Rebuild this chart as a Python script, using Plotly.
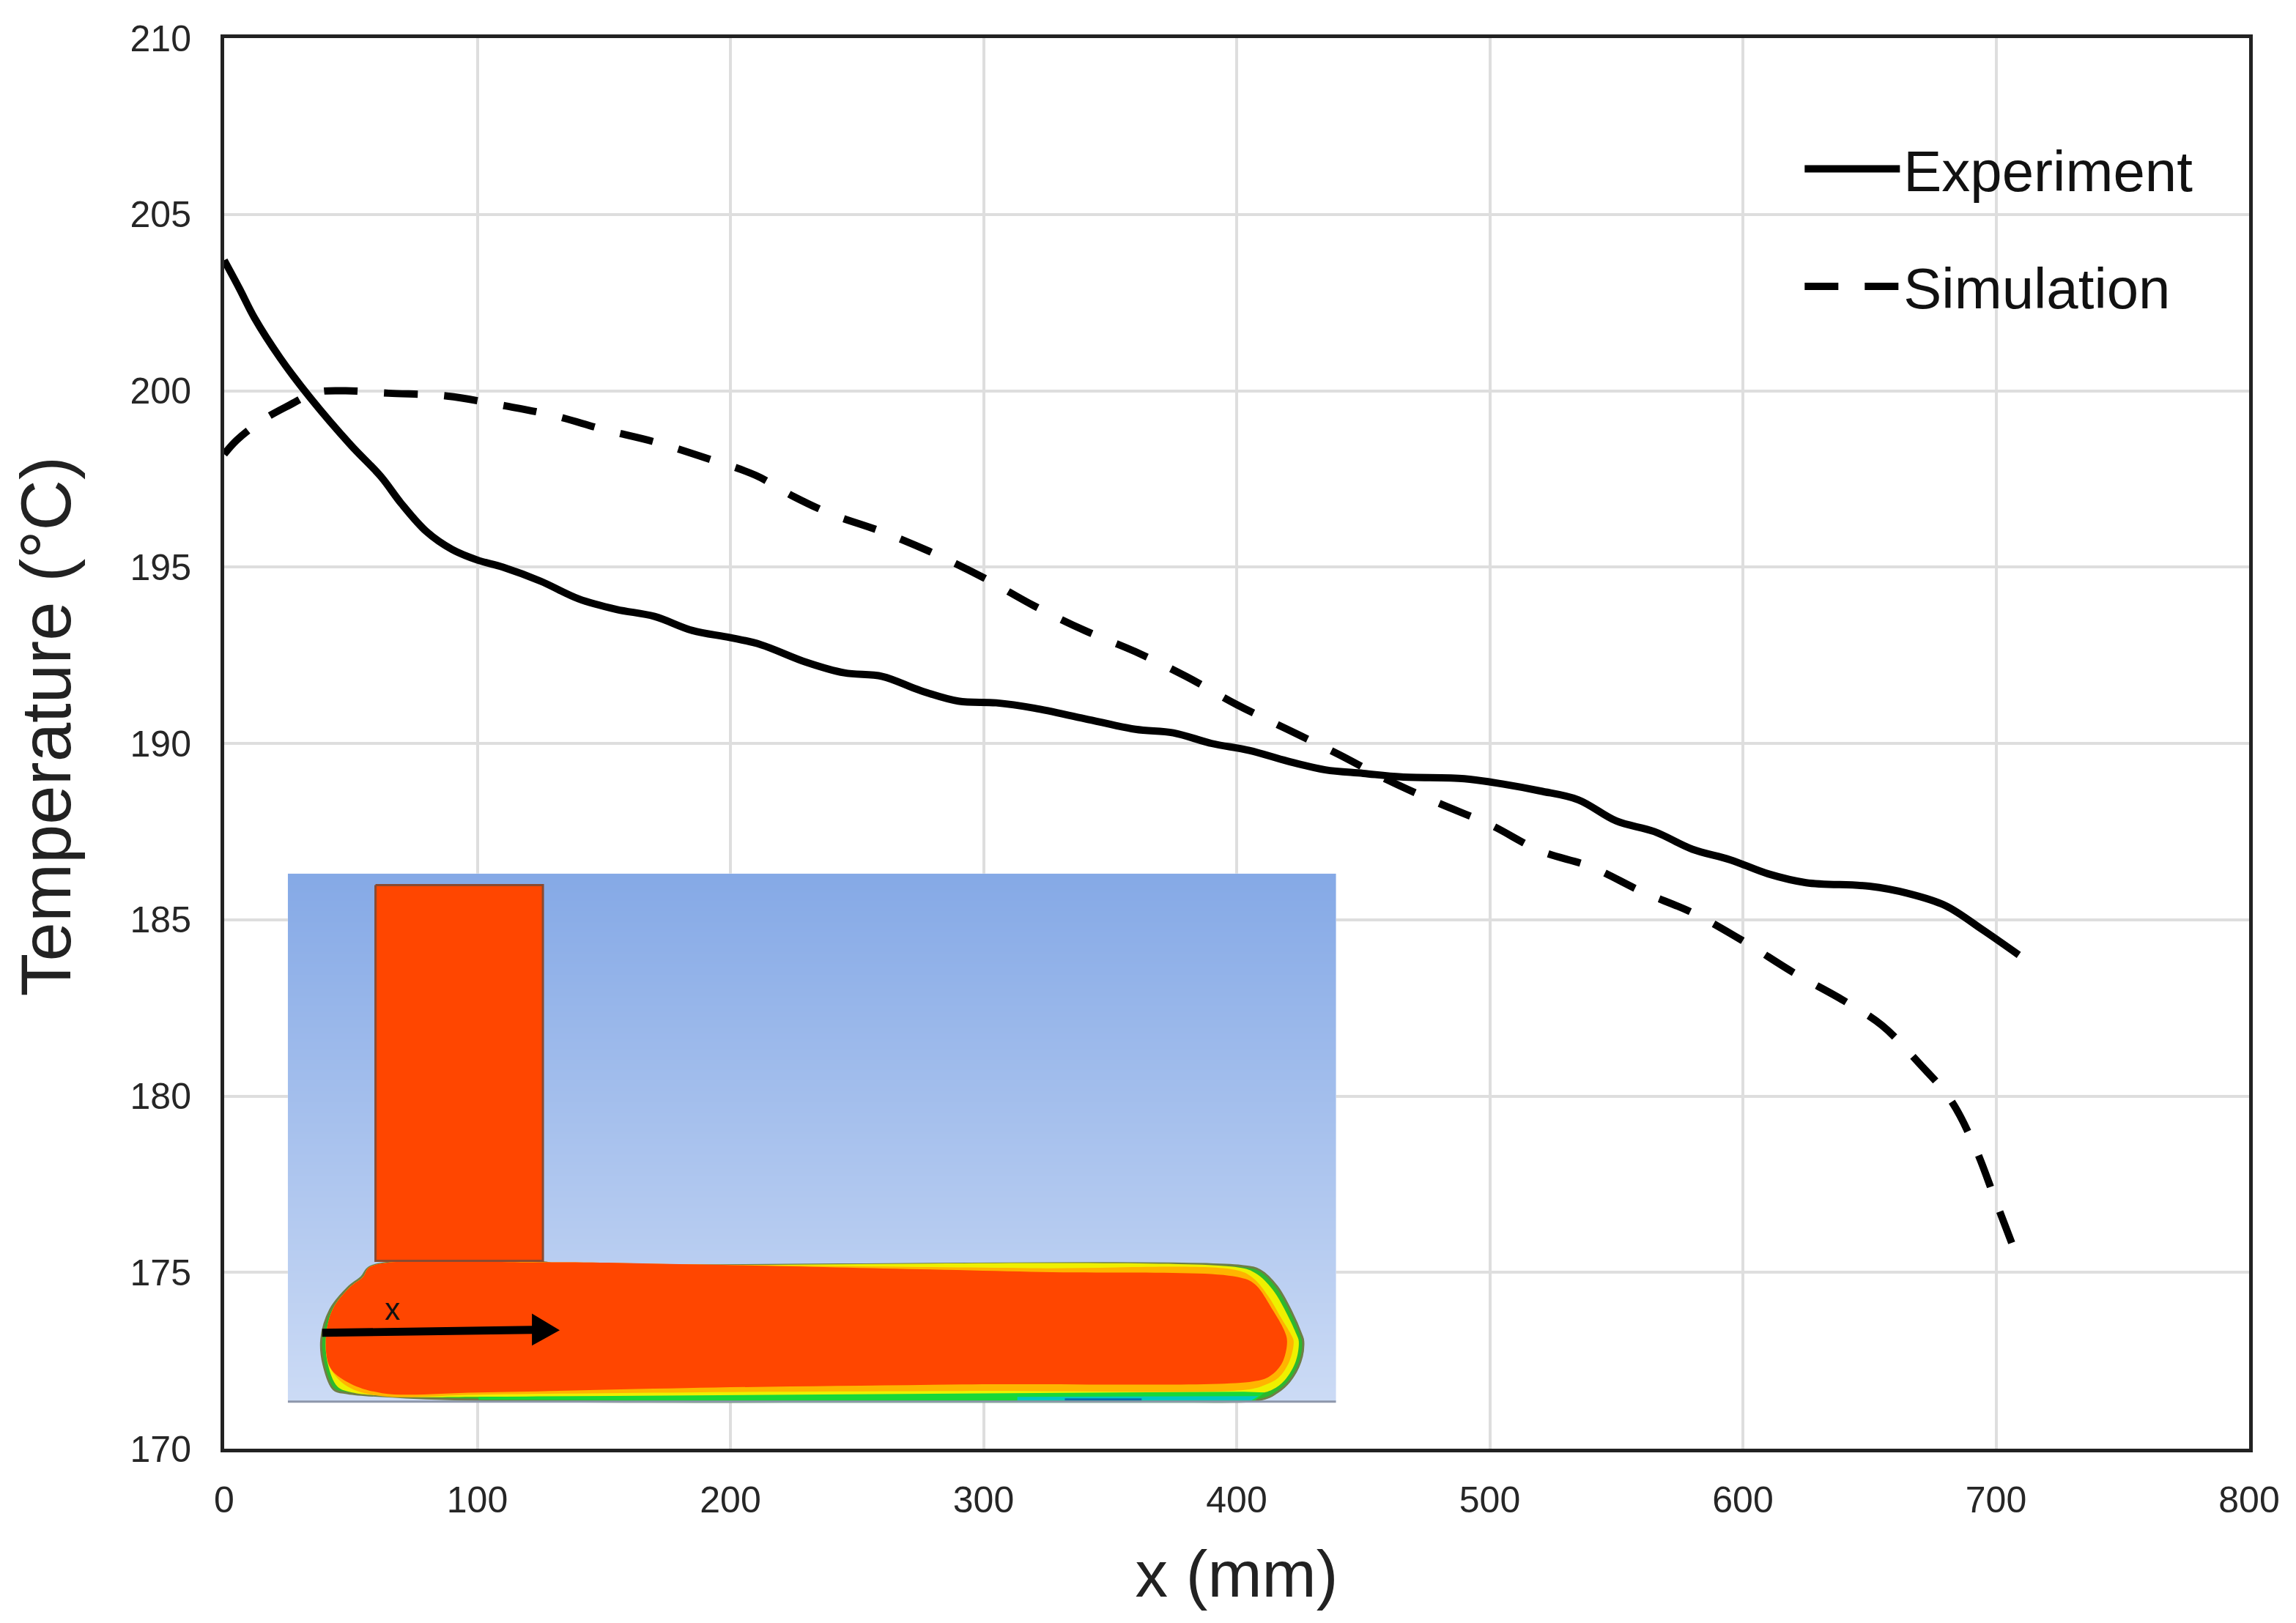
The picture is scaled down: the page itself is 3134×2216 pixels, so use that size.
import plotly.graph_objects as go

# values
exp_x = [0, 6, 12, 22, 34, 50, 62, 70, 80, 90, 100, 110, 125, 140, 155, 170, 185, 200, 212, 230,
         245, 260, 275, 290, 305, 320, 340, 360, 375, 390, 405, 420, 435, 450, 465, 490, 505, 520,
         535, 550, 565, 580, 595, 610, 625, 650, 665, 680, 695, 709]
exp_t = [203.7, 202.9, 202.06, 200.94, 199.8, 198.46, 197.56, 196.8, 196.0, 195.5, 195.2, 195.0, 194.6,
         194.1, 193.8, 193.6, 193.2, 193.0, 192.8, 192.3, 192.0, 191.9, 191.5, 191.2, 191.15, 191.0,
         190.7, 190.4, 190.3, 190.0, 189.8, 189.5, 189.25, 189.15, 189.05, 189.0, 188.85, 188.65,
         188.4, 187.8, 187.5, 187.0, 186.7, 186.3, 186.05, 185.95, 185.75, 185.4, 184.7, 184.0]

sim_x = [0, 5, 15, 26, 36, 48, 65, 88, 111, 130, 150, 170, 190, 210, 225, 240, 260, 280, 300, 320,
         340, 360, 380, 400, 420, 440, 460, 480, 500, 520, 540, 560, 580, 600, 620, 640, 655, 670,
         682, 692, 700, 708]
sim_t = [198.2, 198.6, 199.16, 199.6, 199.95, 200.0, 199.93, 199.85, 199.57, 199.3, 198.9, 198.55,
         198.1, 197.6, 197.0, 196.5, 196.0, 195.4, 194.7, 193.9, 193.2, 192.6, 191.9, 191.1, 190.4,
         189.7, 188.95, 188.3, 187.7, 186.95, 186.5, 185.8, 185.2, 184.4, 183.5, 182.7, 182.0, 180.9,
         179.9, 178.5, 177.0, 175.5]

x_ticks = [0, 100, 200, 300, 400, 500, 600, 700, 800]
y_ticks = [170, 175, 180, 185, 190, 195, 200, 205, 210]

# inset outlines, in page pixels of the picture
riser_x = [512, 741, 741, 512, 512]
riser_y = [1206, 1206, 1720, 1720, 1206]
outer_x = [505, 741, 760, 1696, 1722, 1745, 1765, 1778, 1781, 1777, 1762, 1745, 1722, 653, 559, 474,
           455, 441, 438, 450, 474, 493, 505]
outer_y = [1728, 1722, 1725, 1727, 1733, 1755, 1790, 1820, 1830, 1858, 1885, 1900, 1910, 1910, 1907,
           1901, 1896, 1862, 1827, 1787, 1757, 1742, 1728]
yellow_x = [505, 741, 760, 1692, 1716, 1739, 1759, 1772, 1775, 1771, 1756, 1739, 1716, 1314, 936, 653,
            559, 480, 460, 447, 444, 453, 476, 495, 505]
yellow_y = [1728, 1722, 1725, 1729, 1737, 1759, 1793, 1821, 1830, 1857, 1883, 1896, 1902, 1903, 1905,
            1906, 1906, 1900, 1892, 1862, 1827, 1787, 1757, 1742, 1728]
amber_x = [505, 741, 955, 1408, 1691, 1713, 1733, 1752, 1765, 1768, 1762, 1747, 1728, 1705, 1314, 936,
           653, 521, 474, 450, 445, 453, 476, 495, 505]
amber_y = [1728, 1722, 1725, 1730, 1733, 1744, 1768, 1800, 1822, 1830, 1858, 1880, 1890, 1896, 1898,
           1900, 1903, 1905, 1892, 1866, 1827, 1787, 1757, 1742, 1728]
body_x = [505, 741, 955, 1408, 1691, 1715, 1738, 1755, 1759, 1752, 1735, 1712, 1314, 936, 653, 521,
          474, 450, 444, 453, 476, 495, 505]
body_y = [1728, 1722, 1725, 1735, 1742, 1752, 1785, 1815, 1830, 1860, 1878, 1885, 1889, 1894, 1900,
          1901, 1886, 1866, 1827, 1787, 1757, 1742, 1728]
green_x = [653, 936, 1314, 1700, 1728, 1715, 1400, 1000, 653]
green_y = [1906, 1904, 1901, 1899, 1900, 1911, 1911, 1911, 1910]
cyan_x = [1390, 1720, 1710, 1390]
cyan_y = [1906, 1905, 1911, 1911]
blue_x = [1455, 1560, 1560, 1455]
blue_y = [1908, 1908, 1911, 1911]
arrow_x = [439, 726, 726, 764, 726, 726, 439]
arrow_y = [1813, 1809, 1792, 1815, 1836, 1820, 1824]
grad_y = [1190, 1914]
grad_x = [392, 1826]
grad_z = [[0, 0], [1, 1]]

fig = go.Figure()


def inset_shape(xs, ys, fill, line="rgba(0,0,0,0)", width=0, shape="linear"):
    fig.add_trace(go.Scatter(x=xs, y=ys, xaxis="x2", yaxis="y2", mode="lines", fill="toself",
                             fillcolor=fill, line=dict(color=line, width=width, shape=shape),
                             showlegend=False, hoverinfo="skip"))


fig.add_trace(go.Scatter(
    x=exp_x, y=exp_t, name="Experiment", mode="lines", legendgroup="a",
    line=dict(color="black", width=10, shape="spline")
))
fig.add_trace(go.Scatter(
    x=sim_x, y=sim_t, name="Simulation", mode="lines", legendgroup="b",
    line=dict(color="black", width=10, dash="46px,36px", shape="spline")
))

# inset picture
fig.add_trace(go.Heatmap(
    x=grad_x, y=grad_y, z=grad_z, xaxis="x2", yaxis="y2", zsmooth="best", showscale=False,
    colorscale=[[0, "#85A9E6"], [1, "#CCDBF5"]], hoverinfo="skip"
))
inset_shape(outer_x, outer_y, "#2DB82D", "#6F7F45", 3, "spline")
inset_shape(yellow_x, yellow_y, "#EEF000", shape="spline")
inset_shape(amber_x, amber_y, "#FFB400", shape="spline")
inset_shape(body_x, body_y, "#FF4600", shape="spline")
inset_shape(green_x, green_y, "#18D838")
inset_shape(cyan_x, cyan_y, "#00C8C0")
inset_shape(blue_x, blue_y, "#0A6CB0")
inset_shape(riser_x, riser_y, "#FF4600", "#8A4A30", 3)
inset_shape(arrow_x, arrow_y, "black")
fig.add_trace(go.Scatter(x=grad_x, y=[1914, 1914], xaxis="x2", yaxis="y2", mode="lines",
                         line=dict(color="#8E97AB", width=6), showlegend=False, hoverinfo="skip"))

fig.update_layout(
    width=3134,
    height=2216,
    margin=dict(l=298, r=72, t=44, b=246),
    paper_bgcolor="white",
    plot_bgcolor="white",
    font=dict(family="Liberation Sans", color="black"),
    legend=dict(
        x=0.7787, y=0.937, xanchor="left", yanchor="top",
        bgcolor="rgba(0,0,0,0)", itemwidth=130, tracegroupgap=56,
        font=dict(size=78, color="#111111")
    ),
    xaxis=dict(
        range=[0, 800], tickvals=x_ticks, showgrid=True, gridcolor="#DEDEDE", gridwidth=4,
        zeroline=False, showline=True, linecolor="#222222", linewidth=5, mirror=True,
        ticks="", ticklabelstandoff=22, tickfont=dict(size=50, color="#262626"),
        title=dict(text="x (mm)", font=dict(size=89, color="#222222"), standoff=44)
    ),
    yaxis=dict(
        range=[170, 210], tickvals=y_ticks, showgrid=True, gridcolor="#DEDEDE", gridwidth=4,
        zeroline=False, showline=True, linecolor="#222222", linewidth=5, mirror=True,
        ticks="", ticklabelstandoff=30, tickfont=dict(size=50, color="#262626")
    ),
    xaxis2=dict(domain=[87 / 2770, 1521 / 2770], range=grad_x, visible=False, anchor="y2"),
    yaxis2=dict(domain=[63 / 1930, 787 / 1930], range=grad_y[::-1], visible=False, anchor="x2"),
    annotations=[
        dict(text="x", x=535, y=1786, xref="x2", yref="y2", showarrow=False,
             font=dict(size=42, color="#111111")),
        dict(text="Temperature (°C)", x=-0.0881, y=0.512, xref="paper", yref="paper", textangle=-90,
             xanchor="center", yanchor="middle", showarrow=False,
             font=dict(size=96, color="#222222"))
    ]
)

fig.write_html("out.html")
